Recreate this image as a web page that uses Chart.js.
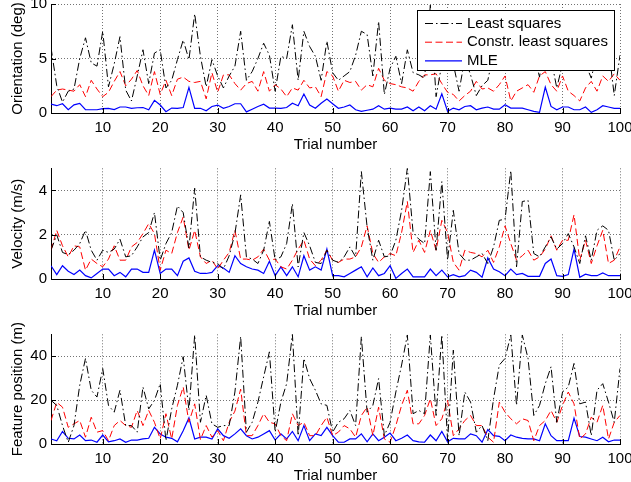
<!DOCTYPE html>
<html lang="en">
<head>
  <meta charset="UTF-8">
  <title>Estimation error per trial</title>
  <script src="https://cdn.jsdelivr.net/npm/chart.js"></script>
  <style>
    html, body { margin: 0; padding: 0; background: #fff; overflow: hidden; }
    canvas.panel { position: absolute; left: 0; }
  </style>
</head>
<body>
  <canvas id="orient" class="panel" width="631" height="153" style="top:0px"></canvas>
  <canvas id="velocity" class="panel" width="631" height="164" style="top:155px"></canvas>
  <canvas id="feature" class="panel" width="631" height="164" style="top:320px"></canvas>

  <script>
    const trials = Array.from({ length: 100 }, (_, i) => i + 1);
    const xTicks = [10, 20, 30, 40, 50, 60, 70, 80, 90, 100];
    const seriesNames = ['Least squares', 'Constr. least squares', 'MLE'];

    // orientation error (deg)
    const orientTicks = [0, 5, 10];
    const orientLS = [
      6.0, 2.5, 1.0, 2.0, 2.2, 5.0, 6.9, 4.6, 4.3, 7.5,
      2.4, 4.5, 7.0, 2.1, 1.1, 3.4, 5.8, 2.7, 5.5, 5.8,
      2.3, 3.0, 4.9, 6.7, 4.9, 9.1, 5.2, 2.4, 4.9, 3.4,
      2.3, 3.4, 4.3, 7.5, 3.0, 3.8, 5.0, 6.4, 5.3, 2.0,
      5.2, 5.0, 8.1, 3.0, 7.5, 6.1, 5.2, 3.0, 6.6, 3.7,
      3.0, 3.4, 3.8, 5.3, 7.5, 7.2, 3.4, 8.4, 1.7, 4.1,
      5.2, 2.7, 5.8, 3.7, 3.5, 3.2, 9.9, 1.5, 4.5, 6.0,
      4.5, 2.0, 5.0, 3.5, 1.6, 2.5, 3.0, 5.5, 6.0, 4.5,
      7.0, 5.0, 6.0, 4.5, 5.5, 3.3, 6.5, 5.0, 2.3, 4.5,
      6.0, 5.0, 7.0, 4.5, 3.2, 5.5, 4.0, 6.0, 1.6, 5.3
    ];
    const orientCLS = [
      1.5, 2.1, 2.2, 2.1, 2.0, 2.6, 1.5, 3.0, 2.2, 1.5,
      1.9, 2.9, 3.8, 2.5, 3.1, 3.9, 2.5, 1.6, 3.8, 1.7,
      3.0, 1.6, 3.1, 3.3, 2.9, 2.8, 2.9, 1.3, 3.7, 1.9,
      3.5, 3.5, 2.7, 2.1, 2.7, 2.9, 2.0, 3.8, 2.0, 2.6,
      2.2, 1.5, 2.3, 2.1, 3.0, 2.3, 2.4, 1.5, 3.8, 3.4,
      2.0, 3.0, 2.8, 2.9, 2.1, 2.6, 2.4, 4.1, 3.0, 2.7,
      2.6, 2.4, 2.3, 2.0, 2.9, 3.5, 3.5, 3.6, 2.7, 1.9,
      1.7, 1.1, 1.6, 2.0, 2.9, 2.2, 2.3, 2.0, 2.6, 3.4,
      1.1, 2.0, 2.3, 2.6, 1.9, 3.4, 3.8, 2.6, 2.0, 3.4,
      2.0, 1.6, 1.1, 2.3, 2.9, 2.0, 3.4, 2.9, 3.6, 3.0
    ];
    const orientMLE = [
      0.82, 0.67, 0.85, 0.3, 0.75, 0.88, 0.3, 0.3, 0.3, 0.4,
      0.42, 0.32, 0.55, 0.55, 0.42, 0.48, 0.5, 0.3, 1.16, 0.73,
      0.12, 0.45, 0.43, 0.5, 2.35, 0.43, 0.43, 0.2, 0.6, 0.73,
      0.43, 0.6, 0.85, 0.85, 0.1, 0.35, 0.6, 0.8, 0.45, 0.45,
      0.42, 0.5, 0.9, 0.67, 1.74, 0.73, 0.43, 0.9, 1.28, 0.85,
      0.43, 0.55, 0.73, 0.3, 0.15, 0.25, 0.35, 0.67, 0.35, 0.45,
      0.35, 0.35, 0.55, 0.2, 0.55, 0.2, 0.67, 0.35, 1.77, 0.15,
      0.45, 0.3, 0.6, 0.67, 0.3, 0.45, 0.55, 0.35, 0.35, 0.76,
      0.45, 0.45, 0.45, 0.3, 0.15, 0.06, 2.38, 0.6, 0.3, 0.55,
      0.55, 0.3, 0.3, 0.55, 0.06, 0.3, 0.67, 0.55, 0.43, 0.43
    ];

    // velocity error (m/s)
    const velTicks = [0, 2, 4];
    const velLS = [
      1.3, 2.0, 1.2, 1.1, 1.3, 1.6, 2.2, 1.3, 0.85, 1.3,
      1.2, 1.35, 1.8, 1.0, 1.05, 1.45, 1.9, 2.1, 3.0, 0.85,
      1.6, 2.1, 3.3, 3.0, 1.4, 4.1, 1.0, 0.85, 0.75, 0.7,
      0.45, 1.05, 2.05, 3.8, 1.0, 0.9, 0.7, 1.3, 2.6, 0.85,
      1.0, 1.6, 3.4, 0.55, 2.1, 1.5, 0.75, 0.7, 1.3, 0.85,
      0.75, 1.0, 1.45, 1.0, 4.85, 2.35, 0.85, 1.75, 1.0, 1.05,
      1.75, 3.1, 5.0, 2.1, 1.8, 1.6, 4.85, 1.3, 4.4, 0.85,
      3.1, 1.15, 0.85, 0.85, 1.0, 1.15, 0.7, 1.45, 2.65, 2.7,
      4.9, 0.55, 3.5, 3.55, 1.15, 1.0, 1.45, 1.9, 1.35, 1.6,
      2.05, 1.45, 0.7, 1.95, 0.85, 2.2, 2.4, 2.2, 0.85, 1.15
    ];
    const velCLS = [
      1.3, 2.2, 1.5, 1.0, 1.5, 1.45, 0.4, 0.9, 0.7, 0.55,
      0.9, 1.5, 0.85, 0.85, 1.45, 1.65, 2.05, 2.5, 2.05, 0.4,
      1.3, 1.15, 2.1, 2.8, 1.3, 2.2, 1.0, 0.7, 0.85, 0.45,
      0.85, 1.2, 2.2, 0.9, 0.9, 0.85, 1.0, 1.35, 0.85, 0.9,
      0.55, 0.45, 0.85, 1.35, 1.75, 0.9, 0.6, 0.85, 1.3, 0.85,
      0.75, 0.9, 0.9, 1.0, 1.45, 2.4, 1.15, 0.75, 1.0, 1.15,
      1.05, 2.1, 3.5, 1.2, 1.75, 1.2, 2.2, 1.3, 2.65, 2.1,
      0.75, 0.4, 1.3, 1.2, 1.15, 1.0, 1.3, 0.75, 1.45, 2.4,
      1.6, 0.85, 1.05, 1.3, 0.85, 1.0, 1.35, 1.95, 1.3, 1.75,
      1.75, 2.9, 0.85, 1.75, 0.7, 1.5, 2.2, 0.7, 0.85, 1.45
    ];
    const velMLE = [
      0.6, 0.2, 0.6, 0.35, 0.2, 0.4, 0.15, 0.05, 0.25, 0.45,
      0.45, 0.15, 0.3, 0.1, 0.45, 0.45, 0.3, 0.3, 1.3, 0.25,
      0.45, 0.45, 0.15, 0.8, 0.95, 0.35, 0.25, 0.25, 0.3, 0.6,
      0.5, 0.3, 1.05, 0.7, 0.55, 0.45, 0.4, 0.25, 0.8, 0.15,
      0.55, 0.15, 0.55, 0.1, 1.05, 0.4, 0.55, 0.4, 1.35, 0.15,
      0.15, 0.1, 0.25, 0.4, 0.55, 0.1, 0.5, 0.15, 0.25, 0.6,
      0.03, 0.25, 0.45, 0.1, 0.1, 0.1, 0.45, 0.15, 0.4, 0.1,
      0.2, 0.1, 0.15, 0.4, 0.3, 0.08, 0.95, 0.45, 0.33, 0.15,
      0.45, 0.2, 0.25, 0.12, 0.12, 0.12, 0.7, 0.9, 0.15, 0.12,
      0.2, 1.35, 0.08, 0.22, 0.15, 0.15, 0.27, 0.15, 0.15, 0.15
    ];

    // feature position error (m)
    const featTicks = [0, 20, 40];
    const featLS = [
      19.9, 17.6, 8.4, 0.8, 8.4, 26.8, 39, 24.5, 21.4, 34.4,
      17.6, 14.5, 24.5, 8.4, 8.4, 5.4, 26, 16, 19.9, 27.5,
      1.5, 16, 26.8, 39.8, 15.3, 49.7, 9.9, 22.2, 9.2, 7.6,
      8.4, 8.4, 23.7, 49, 5.4, 9.9, 19.1, 30.6, 42, 5.4,
      19.1, 27.5, 50, 3.8, 39, 29.8, 24.5, 18.3, 17.6, 5.4,
      9.9, 11.5, 15.3, 8.4, 49, 14.5, 17.6, 29.8, 3.8, 9.9,
      23.7, 36, 49.7, 13.8, 15.3, 13.8, 49.7, 13, 49.7, 1.5,
      42.8, 3.8, 23.7, 19.1, 5.4, 8.4, 1.5, 20.6, 36, 39,
      49.7, 17.6, 49.7, 39, 13, 17.6, 27.5, 35.2, 9.9, 23.7,
      26, 36.7, 18.3, 19.1, 3.8, 24.5, 27.5, 19.1, 9.9, 34.4
    ];
    const featCLS = [
      10.7, 19, 16.8, 7.6, 9.2, 10.7, 3.1, 12.2, 5.4, 6.1,
      1.5, 8.4, 10.7, 8.4, 7.6, 15.3, 8.4, 15.3, 9.9, 2.3,
      13.8, 2.3, 17.6, 26, 9.9, 18.3, 2, 8.4, 3.1, 6.1,
      1.5, 9.9, 15, 25, 3.8, 3.8, 8.4, 13.8, 9.9, 9.2,
      3.8, 1.5, 13.8, 8.4, 9.9, 3.8, 3.8, 8.4, 12.2, 3.8,
      5.4, 8.4, 6.9, 3.1, 13, 16.8, 3.8, 16.8, 2.3, 0.8,
      8.4, 17.6, 24.5, 9.2, 9.2, 13, 20.6, 8.4, 11.5, 19.9,
      3.8, 6.9, 10.7, 13, 8.4, 8.4, 3.1, 0.8, 19.1, 14.5,
      11.5, 9.2, 11.5, 10.7, 1.5, 8.4, 10.7, 15.3, 9.9, 17.6,
      23.7, 18.3, 2.3, 4.6, 12.2, 9.9, 17.6, 2.3, 9.9, 13
    ];
    const featMLE = [
      2.3, 1.5, 5.7, 2.6, 2.3, 4.1, 1.5, 1.8, 0.8, 4.1,
      1.0, 1.5, 2.3, 0.8, 1.8, 1.8, 2.3, 2.6, 7.6, 4.6,
      3.1, 2.6, 1.0, 6.0, 11.9, 2.3, 3.1, 3.1, 2.3, 6.9,
      3.8, 2.6, 4.6, 6.9, 3.8, 2.3, 3.1, 4.6, 6.1, 1.8,
      4.6, 2.3, 5.7, 1.5, 8.4, 1.5, 4.6, 3.8, 7.6, 3.8,
      0.8, 0.8, 2.3, 2.3, 4.6, 1.0, 4.6, 1.5, 3.1, 5.0,
      1.5, 2.6, 4.1, 1.5, 1.0, 0.8, 4.1, 1.5, 5.7, 1.0,
      2.6, 2.3, 2.3, 4.6, 3.8, 0.8, 6.6, 3.8, 3.5, 1.5,
      4.1, 3.1, 2.6, 2.3, 2.3, 1.5, 9.2, 3.8, 1.5, 1.5,
      1.5, 11.8, 3.4, 3.1, 2.3, 1.5, 3.1, 1.0, 1.8, 1.8
    ];

    Chart.defaults.font.family = '"Liberation Sans", Arial, sans-serif';
    Chart.defaults.font.size = 15;
    Chart.defaults.color = '#000';

    const lineStyles = [
      { borderColor: '#000000', borderWidth: 1, borderDash: [8, 3, 1.5, 3] },
      { borderColor: '#ff0000', borderWidth: 1, borderDash: [7, 3.5] },
      { borderColor: '#0000ff', borderWidth: 1.2, borderDash: [] }
    ];

    const toPoints = values => values.map((v, i) => ({ x: trials[i], y: v }));

    // matlab-like inward tick marks on the left and bottom axes
    const inwardTicks = {
      id: 'inwardTicks',
      afterDraw(chart) {
        const { ctx, chartArea: a, scales } = chart;
        ctx.save();
        ctx.strokeStyle = '#000';
        ctx.lineWidth = 1;
        ctx.beginPath();
        scales.x.ticks.forEach(t => {
          const x = Math.round(scales.x.getPixelForValue(t.value)) + 0.5;
          ctx.moveTo(x, a.bottom);
          ctx.lineTo(x, a.bottom - 5);
        });
        scales.y.ticks.forEach(t => {
          const y = Math.round(scales.y.getPixelForValue(t.value)) + 0.5;
          ctx.moveTo(a.left, y);
          ctx.lineTo(a.left + 5, y);
        });
        ctx.stroke();
        ctx.restore();
      }
    };

    // boxed legend drawn inside the top panel
    const boxLegend = {
      id: 'boxLegend',
      afterDatasetsDraw(chart, args, opts) {
        if (!opts.show) return;
        const ctx = chart.ctx;
        ctx.save();
        ctx.fillStyle = '#fff';
        ctx.strokeStyle = '#000';
        ctx.lineWidth = 1;
        ctx.fillRect(417.5, 10.5, 197, 60);
        ctx.strokeRect(417.5, 10.5, 197, 60);
        ctx.font = '15px "Liberation Sans", Arial, sans-serif';
        ctx.textBaseline = 'middle';
        chart.data.datasets.forEach((ds, i) => {
          const y = 23.5 + i * 18.7;
          ctx.strokeStyle = ds.borderColor;
          ctx.lineWidth = ds.borderWidth;
          ctx.setLineDash(ds.borderDash);
          ctx.beginPath();
          ctx.moveTo(425, y);
          ctx.lineTo(462, y);
          ctx.stroke();
          ctx.setLineDash([]);
          ctx.fillStyle = '#000';
          ctx.fillText(ds.label, 467, y);
        });
        ctx.restore();
      }
    };

    function makePanel(id, yTitle, yMax, yTicks, series, padTop, showLegend) {
      return new Chart(document.getElementById(id), {
        type: 'line',
        data: {
          datasets: series.map((values, k) => ({
            label: seriesNames[k],
            data: toPoints(values),
            ...lineStyles[k],
            pointRadius: 0,
            tension: 0,
            fill: false
          }))
        },
        options: {
          responsive: false,
          animation: false,
          devicePixelRatio: 1,
          layout: { padding: { top: padTop, right: 11, bottom: 0, left: 0 } },
          plugins: {
            legend: { display: false },
            tooltip: { enabled: false },
            boxLegend: { show: showLegend }
          },
          scales: {
            x: {
              type: 'linear',
              min: 1,
              max: 100,
              afterBuildTicks: s => { s.ticks = xTicks.map(v => ({ value: v })); },
              afterFit: s => {
                s.height = 40;
                s.paddingLeft = 0; s.paddingRight = 0;
              },
              ticks: { padding: 6, maxRotation: 0, autoSkip: false },
              grid: { color: 'rgba(0,0,0,0.55)', lineWidth: 1, drawTicks: false },
              border: { color: '#000', width: 1, dash: [1, 2] },
              title: { display: true, text: 'Trial number', padding: { top: 0, bottom: -1 } }
            },
            y: {
              min: 0,
              max: yMax,
              afterBuildTicks: s => { s.ticks = yTicks.map(v => ({ value: v })); },
              afterFit: s => {
                s.width = 51;
                s.paddingTop = 0; s.paddingBottom = 0;
              },
              ticks: { padding: 4 },
              grid: { color: 'rgba(0,0,0,0.55)', lineWidth: 1, drawTicks: false },
              border: { color: '#000', width: 1, dash: [1, 2] },
              title: { display: true, text: yTitle, padding: { top: 9, bottom: 0 } }
            }
          }
        },
        plugins: [inwardTicks, boxLegend]
      });
    }

    makePanel('orient', 'Orientation (deg)', 10, orientTicks,
      [orientLS, orientCLS, orientMLE], 4, true);
    makePanel('velocity', 'Velocity (m/s)', 5, velTicks,
      [velLS, velCLS, velMLE], 13.3, false);
    makePanel('feature', 'Feature position (m)', 50, featTicks,
      [featLS, featCLS, featMLE], 14.3, false);
  </script>
</body>
</html>
